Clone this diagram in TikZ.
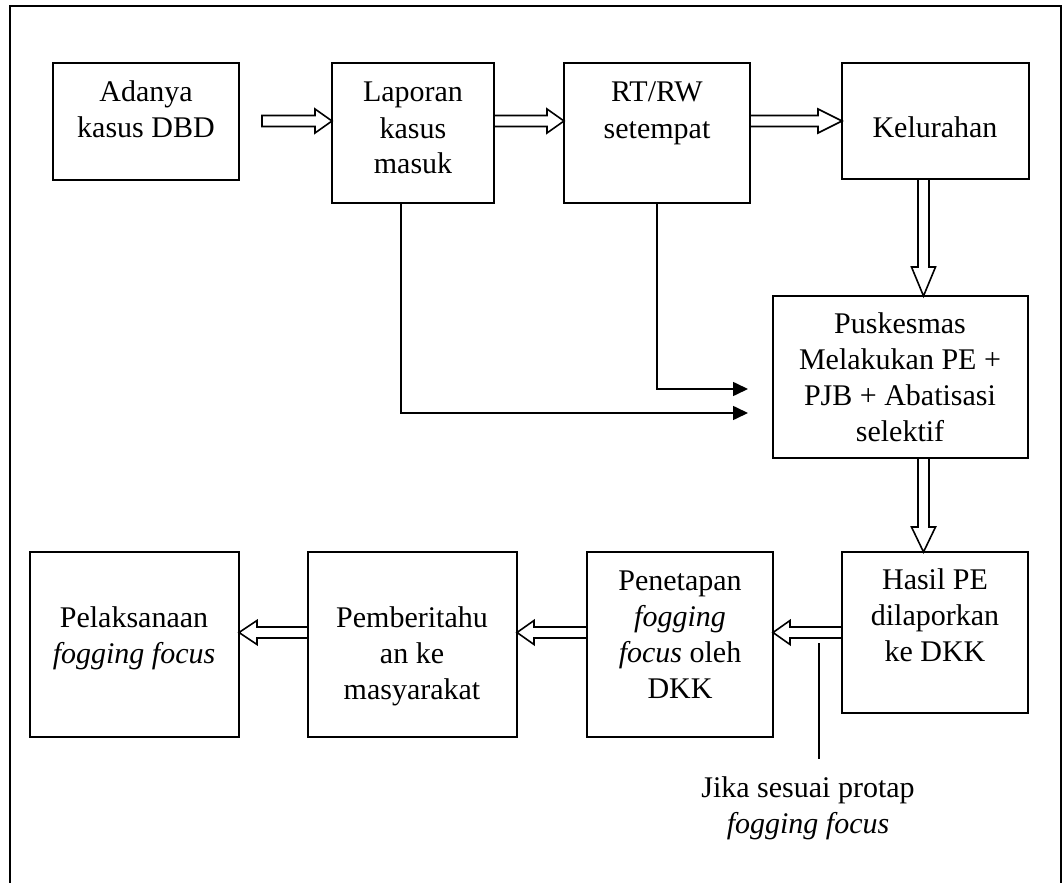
\documentclass[tikz,border=0pt]{standalone}
\usepackage{fontspec}
\setmainfont{Liberation Serif}
\usetikzlibrary{calc,arrows.meta}

% box outlines, text blocks and connectors
\tikzset{
  box/.style={draw, line width=1.6pt, inner sep=0pt, outer sep=0pt},
  txt/.style={anchor=base, inner sep=0pt, font=\fontsize{30}{36}\selectfont},
  hollow/.style={draw, fill=white, line width=1.6pt, line join=miter},
  feed/.style={line width=1.6pt, -{Triangle[length=15pt,width=14pt]}},
  frame/.style={line width=1.6pt},
}

% hollow block arrow from #2 to #3, head length #1 (pt)
\newcommand\blockarrow[3][17]{%
  \coordinate (hb) at ($(#3)!#1pt!(#2)$);
  \path[hollow] ($(#2)!5.5pt!90:(#3)$) -- ($(hb)!5.5pt!90:(#3)$)
    -- ($(hb)!12pt!90:(#3)$) -- (#3) -- ($(hb)!12pt!-90:(#3)$)
    -- ($(hb)!5.5pt!-90:(#3)$) -- ($(#2)!5.5pt!-90:(#3)$) -- cycle;}

\newcommand\lines[1]{\begin{tabular}[t]{@{}c@{}}#1\end{tabular}}

\begin{document}
\begin{tikzpicture}[x=1pt, y=-1pt]
  \useasboundingbox (0,0) rectangle (1063,883);

  % open outer frame
  \draw[frame] (10,883) -- (10,6) -- (1061,6) -- (1061,883);

  % boxes
  \node[box, minimum width=186pt, minimum height=117pt] (adanya) at (146,121.5) {};
  \node[box, minimum width=162pt, minimum height=140pt] (laporan) at (413,133) {};
  \node[box, minimum width=186pt, minimum height=140pt] (rtrw) at (657,133) {};
  \node[box, minimum width=187pt, minimum height=116pt] (kel) at (935.5,121) {};
  \node[box, minimum width=255pt, minimum height=162pt] (pusk) at (900.5,377) {};
  \node[box, minimum width=186pt, minimum height=161pt] (hasil) at (935,632.5) {};
  \node[box, minimum width=186pt, minimum height=185pt] (penet) at (680,644.5) {};
  \node[box, minimum width=209pt, minimum height=185pt] (pember) at (412.5,644.5) {};
  \node[box, minimum width=209pt, minimum height=185pt] (pelak) at (134.5,644.5) {};

  % texts
  \node[txt] (tadanya) at (146,101) {\lines{Adanya\\kasus DBD}};
  \node[txt] (tlaporan) at (413,102) {\lines{Laporan\\kasus\\masuk}};
  \node[txt] (trtrw) at (657,102) {\lines{RT/RW\\setempat}};
  \node[txt] (tkel) at (935,137) {Kelurahan};
  \node[txt] (tpusk) at (900,333) {\lines{Puskesmas\\Melakukan PE +\\PJB + Abatisasi\\selektif}};
  \node[txt] (thasil) at (935,589) {\lines{Hasil PE\\dilaporkan\\ke DKK}};
  \node[txt] (tpenet) at (680,590) {\lines{Penetapan\\\textit{fogging}\\\textit{focus} oleh\\DKK}};
  \node[txt] (tpember) at (412,627) {\lines{Pemberitahu\\an ke\\masyarakat}};
  \node[txt] (tpelak) at (134,627) {\lines{Pelaksanaan\\\textit{fogging focus}}};
  \node[txt] (note) at (808,797) {\lines{Jika sesuai protap\\\textit{fogging focus}}};

  % block arrows along the main flow
  \coordinate (s1) at (262,121);
  \coordinate (t1) at (laporan.west |- s1);
  \coordinate (s2) at (laporan.east |- s1);
  \coordinate (t2) at (rtrw.west |- s1);
  \coordinate (s3) at (rtrw.east |- s1);
  \coordinate (t3) at (kel.west |- s1);
  \coordinate (s4) at (923.5,179);
  \coordinate (t4) at (s4 |- pusk.north);
  \coordinate (s5) at (s4 |- pusk.south);
  \coordinate (t5) at (s4 |- hasil.north);
  \coordinate (s6) at (hasil.west);
  \coordinate (t6) at (penet.east |- s6);
  \coordinate (s7) at (penet.west |- s6);
  \coordinate (t7) at (pember.east |- s6);
  \coordinate (s8) at (pember.west |- s6);
  \coordinate (t8) at (pelak.east |- s6);

  \blockarrow[17]{s1}{t1}
  \blockarrow[17]{s2}{t2}
  \blockarrow[24]{s3}{t3}
  \blockarrow[29]{s4}{t4}
  \blockarrow[25]{s5}{t5}
  \blockarrow[17]{s6}{t6}
  \blockarrow[17]{s7}{t7}
  \blockarrow[18]{s8}{t8}

  % direct reports to the Puskesmas
  \coordinate (l1) at ($(laporan.south)+(-12,0)$);
  \coordinate (e1) at (748,413);
  \coordinate (e2) at (748,389);
  \draw[feed] (l1) |- (e1);
  \draw[feed] (rtrw.south) |- (e2);

  % condition marker
  \coordinate (n1) at (819,643);
  \coordinate (n2) at (819,759);
  \draw[line width=1.2pt] (n1) -- (n2);
\end{tikzpicture}
\end{document}
